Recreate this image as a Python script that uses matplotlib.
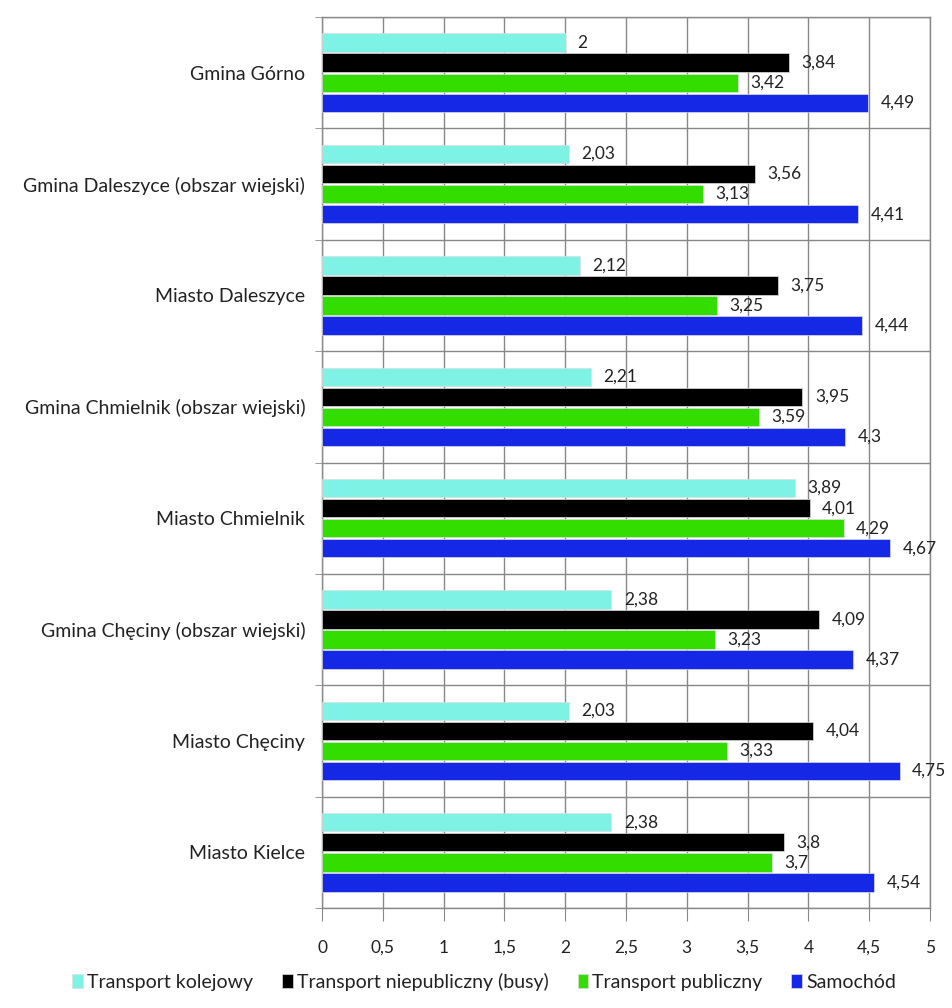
import matplotlib
matplotlib.use("Agg")
import matplotlib.pyplot as plt
import numpy as np

categories = [
    "Gmina Górno",
    "Gmina Daleszyce (obszar wiejski)",
    "Miasto Daleszyce",
    "Gmina Chmielnik (obszar wiejski)",
    "Miasto Chmielnik",
    "Gmina Chęciny (obszar wiejski)",
    "Miasto Chęciny",
    "Miasto Kielce",
]
series_names = ["Transport kolejowy", "Transport niepubliczny (busy)",
                "Transport publiczny", "Samochód"]
kolejowy = [2, 2.03, 2.12, 2.21, 3.89, 2.38, 2.03, 2.38]
busy = [3.84, 3.56, 3.75, 3.95, 4.01, 4.09, 4.04, 3.8]
publiczny = [3.42, 3.13, 3.25, 3.59, 4.29, 3.23, 3.33, 3.7]
samochod = [4.49, 4.41, 4.44, 4.3, 4.67, 4.37, 4.75, 4.54]
x_ticks = [0, 0.5, 1, 1.5, 2, 2.5, 3, 3.5, 4, 4.5, 5]

colors = ["#7ef2e4", "#000000", "#33dd00", "#1428e6"]
series = [kolejowy, busy, publiczny, samochod]

plt.rcParams['font.family'] = ['Lato', 'DejaVu Sans']

fig = plt.figure(figsize=(9.53, 10.08), dpi=100)
ax = fig.add_axes([322/953, (1008-908)/1008, (930-322)/953, (908-17)/1008])

y = np.arange(len(categories))
step = 0.18
h = 0.165
for i, (vals, col, name) in enumerate(zip(series, colors, series_names)):
    pos = y + (i - 1.5) * step
    ax.barh(pos, vals, height=h, color=col, label=name, zorder=3,
            edgecolor='#dddddd', linewidth=0.5)
    for yy, v in zip(pos, vals):
        lab = ('%g' % v).replace('.', ',')
        ax.annotate(lab, xy=(v, yy), xytext=(9, 0), textcoords='offset points',
                    ha='left', va='center', fontsize=12.5, color='#222222', zorder=4)

ax.set_xlim(0, 5)
ax.set_ylim(len(categories) - 0.5, -0.5)
ax.set_xticks(x_ticks)
ax.set_xticklabels([('%g' % t).replace('.', ',') for t in x_ticks], fontsize=12.5, color='#222222')
ax.set_yticks(y)
ax.set_yticklabels(categories, fontsize=14, color='#222222')
ax.set_yticks(np.arange(-0.5, len(categories)), minor=True)
ax.tick_params(axis='y', which='major', length=0, pad=12)
ax.tick_params(axis='y', which='minor', length=5, color='#888888')
ax.tick_params(axis='x', length=9, color='#888888', pad=14)
ax.grid(True, axis='x', color='#888888', linewidth=1, zorder=0)
ax.grid(True, axis='y', which='minor', color='#888888', linewidth=1, zorder=0)
ax.grid(False, axis='y', which='major')
ax.set_axisbelow(True)
for s in ax.spines.values():
    s.set_color('#888888')
    s.set_linewidth(1)

handles, labels = ax.get_legend_handles_labels()
leg = fig.legend(handles, labels, loc='center', bbox_to_anchor=(0.508, 1 - 982/1008),
                 ncol=4, frameon=False, fontsize=14, handlelength=0.55, handleheight=0.75,
                 handletextpad=0.2, columnspacing=1.5)
for t in leg.get_texts():
    t.set_color('#222222')

fig.savefig("out.png", dpi=100)
